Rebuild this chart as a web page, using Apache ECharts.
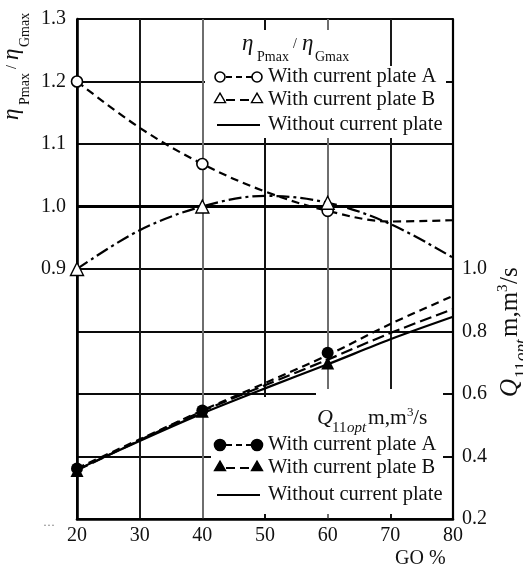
<!DOCTYPE html>
<html>
<head>
<meta charset="utf-8">
<script src="https://cdn.jsdelivr.net/npm/echarts@6/dist/echarts.min.js"></script>
<style>
  html, body { margin: 0; padding: 0; background: #fff; }
  #chart { width: 523px; height: 568px; }
</style>
</head>
<body>
<div id="chart"></div>
<script>
// Guide-vane opening (GO %) on the horizontal axis
const goPct = [20, 30, 40, 50, 60, 70, 80];
const goTicks = [20, 30, 40, 50, 60, 70, 80];

// Efficiency ratio eta_Pmax / eta_Gmax (left axis)
const effCurveA = [1.2, 1.126, 1.068, 1.024, 0.993, 0.976, 0.978];
const effCurveB = [0.9, 0.962, 1.0, 1.017, 1.006, 0.972, 0.918];
const effTestGo = [20, 40, 60];
const effPointsA = [1.2, 1.068, 0.993];
const effPointsB = [0.9, 1.0, 1.006];
const effNoPlateGo = [20, 80];
const effNoPlate = [1.0, 1.0];

// Optimum unit discharge Q11opt (right axis)
const flowLineA = [0.362, 0.455, 0.547, 0.635, 0.724, 0.824, 0.914];
const flowLineB = [0.356, 0.452, 0.545, 0.628, 0.71, 0.795, 0.872];
const flowNoPlate = [0.358, 0.45, 0.538, 0.618, 0.695, 0.775, 0.847];
const flowPointsA = [0.362, 0.547, 0.732];
const flowPointsB = [0.355, 0.545, 0.699];

// Tick labels that are printed on each vertical axis
const effTickLabels = ['0.9', '1.0', '1.1', '1.2', '1.3'];
const flowTickLabels = ['0.2', '0.4', '0.6', '0.8', '1.0'];

const SERIF = '"Liberation Serif", "Times New Roman", serif';
const INK = '#000';

const pairs = (xs, ys) => xs.map((x, i) => [x, ys[i]]);

// Text piece placed by its alphabetic baseline
function piece(text, x, baseline, size, italic) {
  return {
    type: 'text',
    z: 20,
    style: {
      text: text,
      x: x,
      y: baseline - 0.34 * size,
      font: (italic ? 'italic ' : '') + size + 'px ' + SERIF,
      fill: '#111',
      textAlign: 'left',
      textVerticalAlign: 'middle'
    }
  };
}

function whiteBox(x, y, w, h) {
  return { type: 'rect', z: 1, shape: { x: x, y: y, width: w, height: h },
           style: { fill: '#fff' }, silent: true };
}

function seg(x1, y1, x2, y2, dash, width) {
  return { type: 'line', z: 20, shape: { x1: x1, y1: y1, x2: x2, y2: y2 },
           style: { stroke: INK, lineWidth: width || 2, lineDash: dash || null } };
}

function circleMark(cx, cy, r, filled) {
  return { type: 'circle', z: 21, shape: { cx: cx, cy: cy, r: r },
           style: { fill: filled ? INK : '#fff', stroke: INK, lineWidth: 1.6 } };
}

function triMark(cx, cy, s, filled) {
  const h = s * 0.87;
  return { type: 'polygon', z: 21,
           shape: { points: [[cx, cy - h * 0.62], [cx + s / 2, cy + h * 0.38], [cx - s / 2, cy + h * 0.38]] },
           style: { fill: filled ? INK : '#fff', stroke: INK, lineWidth: 1.4 } };
}

// eta_Pmax / eta_Gmax written with subscripts, laid out left to right
function etaRatioTitle(baseline) {
  return [
    piece('\u03B7', 0, baseline, 23, true),
    piece('Pmax', 15, baseline + 10, 14, false),
    piece('/', 51, baseline - 3, 14, false),
    piece('\u03B7', 60, baseline, 23, true),
    piece('Gmax', 73, baseline + 10, 14, false)
  ];
}

const legendFont = 20.5;

const graphics = [
  // legend panels
  whiteBox(236, 30, 120, 40),
  whiteBox(205, 66, 241, 72),
  whiteBox(316, 389, 127, 32),
  whiteBox(211, 397, 232, 117),

  // upper legend title
  { type: 'group', x: 242, y: 0, children: etaRatioTitle(52) },
  // upper legend rows
  seg(226, 77, 252, 77, [6, 4]), circleMark(220, 77, 5, false), circleMark(257, 77, 5, false),
  seg(226, 100, 252, 100, [9, 5]), triMark(220, 99, 11, false), triMark(257, 99, 11, false),
  seg(217, 125, 260, 125, null, 2.2),
  piece('With current plate A', 268, 84, legendFont, false),
  piece('With current plate B', 268, 107, legendFont, false),
  piece('Without current plate', 268, 132, legendFont, false),

  // lower legend title: Q11opt m,m3/s
  piece('Q', 317, 426, 22, true),
  piece('11', 332, 433, 15, false),
  piece('opt', 347, 433, 15, true),
  piece('m,m', 368, 426, 21.5, false),
  piece('3', 407, 417, 13, false),
  piece('/s', 413, 426, 21.5, false),
  // lower legend rows
  seg(226, 445, 252, 445, [6, 4]), circleMark(220, 445, 5.5, true), circleMark(257, 445, 5.5, true),
  seg(226, 468, 252, 468, [9, 5]), triMark(220, 467, 11, true), triMark(257, 467, 11, true),
  seg(217, 495, 260, 495, null, 2.2),
  piece('With current plate A', 268, 452, legendFont, false),
  piece('With current plate B', 268, 475, legendFont, false),
  piece('Without current plate', 268, 502, legendFont, false),

  // left axis title, reading upward
  { type: 'group', x: 0, y: 120, rotation: Math.PI / 2,
    children: etaRatioTitle(20) },

  // right axis title, reading upward
  { type: 'group', x: 0, y: 397, rotation: Math.PI / 2,
    children: [
      piece('Q', 0, 519, 25, true),
      piece('11', 19, 527, 17, false),
      piece('opt', 36, 527, 17, true),
      piece('m,m', 60, 519, 25, false),
      piece('3', 105, 508, 15, false),
      piece('/s', 113, 519, 25, false)
    ] },

  // x axis name
  piece('GO %', 395, 566, 20, false),
  { type: 'text', z: 20, style: { text: '\u00B7\u00B7\u00B7', x: 43, y: 526, font: '12px ' + SERIF,
    fill: '#777', textAlign: 'left', textVerticalAlign: 'middle' } }
];

const chart = echarts.init(document.getElementById('chart'), null, { renderer: 'canvas' });

chart.setOption({
  animation: false,
  backgroundColor: '#fff',
  grid: { left: 77, right: 70, top: 19, bottom: 49, containLabel: false },
  xAxis: {
    type: 'value',
    min: goTicks[0],
    max: goTicks[goTicks.length - 1],
    interval: 10,
    axisLine: { show: true, onZero: false, lineStyle: { color: INK, width: 2.6 } },
    axisTick: { show: false },
    axisLabel: { fontFamily: SERIF, fontSize: 20, color: '#111', margin: 7 },
    splitLine: { show: true, lineStyle: { width: 2,
      color: ['#000', '#1a1a1a', '#6e6e6e', '#111', '#6e6e6e', '#1a1a1a', '#000'] } }
  },
  yAxis: [
    {
      type: 'value', position: 'left', min: 0.5, max: 1.3, interval: 0.1,
      axisLine: { show: true, onZero: false, lineStyle: { color: INK, width: 2.6 } },
      axisTick: { show: false },
      axisLabel: {
        fontFamily: SERIF, fontSize: 20, color: '#111', margin: 11,
        formatter: v => { const s = v.toFixed(1); return effTickLabels.includes(s) ? s : ''; }
      },
      splitLine: { show: true, lineStyle: { color: '#0a0a0a', width: 2 } }
    },
    {
      type: 'value', position: 'right', min: 0.2, max: 1.8, interval: 0.2,
      axisLine: { show: true, onZero: false, lineStyle: { color: INK, width: 2.2 } },
      axisTick: { show: false },
      axisLabel: {
        fontFamily: SERIF, fontSize: 20, color: '#111', margin: 9,
        formatter: v => { const s = v.toFixed(1); return flowTickLabels.includes(s) ? s : ''; }
      },
      splitLine: { show: false }
    }
  ],
  graphic: graphics,
  series: [
    { name: 'eta A', type: 'line', yAxisIndex: 0, smooth: 0.35, showSymbol: false, symbol: 'none',
      data: pairs(goPct, effCurveA), lineStyle: { color: INK, width: 2.2, type: [8, 5] }, z: 3 },
    { name: 'eta A points', type: 'scatter', yAxisIndex: 0, symbol: 'circle', symbolSize: 11,
      data: pairs(effTestGo, effPointsA),
      itemStyle: { color: '#fff', borderColor: INK, borderWidth: 1.6, opacity: 1 }, z: 5 },
    { name: 'eta B', type: 'line', yAxisIndex: 0, smooth: 0.35, showSymbol: false, symbol: 'none',
      data: pairs(goPct, effCurveB), lineStyle: { color: INK, width: 2.2, type: [13, 4, 3, 4] }, z: 3 },
    { name: 'eta B points', type: 'scatter', yAxisIndex: 0, symbol: 'triangle', symbolSize: 13,
      data: pairs(effTestGo, effPointsB),
      itemStyle: { color: '#fff', borderColor: INK, borderWidth: 1.4, opacity: 1 }, z: 5 },
    { name: 'eta no plate', type: 'line', yAxisIndex: 0, showSymbol: false, symbol: 'none',
      data: pairs(effNoPlateGo, effNoPlate), lineStyle: { color: INK, width: 3 }, z: 3 },

    { name: 'Q A', type: 'line', yAxisIndex: 1, smooth: 0.3, showSymbol: false, symbol: 'none',
      data: pairs(goPct, flowLineA), lineStyle: { color: INK, width: 2.2, type: [8, 5] }, z: 3 },
    { name: 'Q A points', type: 'scatter', yAxisIndex: 1, symbol: 'circle', symbolSize: 12,
      data: pairs(effTestGo, flowPointsA), itemStyle: { color: INK, opacity: 1 }, z: 5 },
    { name: 'Q B', type: 'line', yAxisIndex: 1, smooth: 0.3, showSymbol: false, symbol: 'none',
      data: pairs(goPct, flowLineB), lineStyle: { color: INK, width: 2.2, type: [12, 5] }, z: 3 },
    { name: 'Q B points', type: 'scatter', yAxisIndex: 1, symbol: 'triangle', symbolSize: 13,
      data: pairs(effTestGo, flowPointsB), itemStyle: { color: INK, opacity: 1 }, z: 5 },
    { name: 'Q no plate', type: 'line', yAxisIndex: 1, smooth: 0.3, showSymbol: false, symbol: 'none',
      data: pairs(goPct, flowNoPlate), lineStyle: { color: INK, width: 2.2 }, z: 3 }
  ]
});
</script>
</body>
</html>
